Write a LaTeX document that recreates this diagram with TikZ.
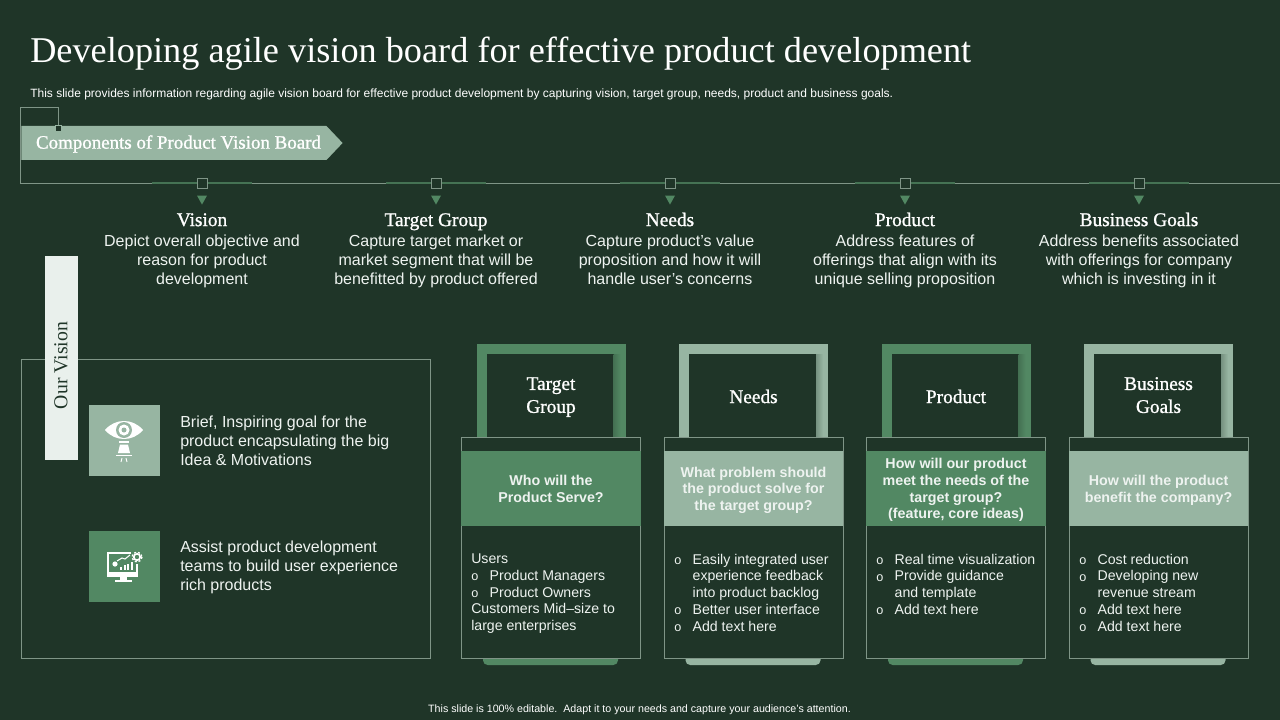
\documentclass[tikz,border=0pt]{standalone}
\usepackage{fontspec}
\setmainfont{Liberation Sans}
\newfontfamily\titlefont{Liberation Serif}
\newfontfamily\headfont[FakeBold=1]{Liberation Serif}
\usetikzlibrary{positioning,shapes.geometric,shapes.symbols}
\definecolor{slidebg}{HTML}{1F3528}
\definecolor{midgreen}{HTML}{528863}
\definecolor{palegreen}{HTML}{97B5A2}
\definecolor{thinline}{HTML}{7F9587}
\definecolor{barwhite}{HTML}{E9F0EC}
\definecolor{softwhite}{HTML}{EEF3F0}
\newcommand{\itm}{\makebox[13.8pt][l]{\raisebox{-.4pt}{\fontsize{9.5}{10}\selectfont o}}}
\newcommand{\ind}{\hspace*{13.8pt}}
\begin{document}
\begin{tikzpicture}[x=.75pt,y=-.75pt,
		base line/.style={draw=thinline,line width=.75pt},
		stub line/.style={draw=midgreen!75!slidebg,line width=1.2pt},
		tick node/.style={rectangle,draw=thinline,fill=slidebg,line width=.75pt,inner sep=0pt,minimum size=7.5pt},
		small tick/.style={rectangle,draw=palegreen,fill=slidebg,line width=.6pt,inner sep=0pt,minimum size=4.6pt},
		arrow mark/.style={isosceles triangle,isosceles triangle stretches,shape border rotate=-90,fill=midgreen,inner sep=0pt,minimum height=6.75pt,minimum width=7.5pt},
		head node/.style={text=white,font=\headfont\fontsize{14.5}{17.2}\selectfont,align=center,inner sep=0pt,execute at begin node=\strut,execute at end node=\strut},
		body node/.style={text=softwhite,font=\fontsize{12}{14.25}\selectfont,align=center,inner sep=0pt,execute at begin node=\strut,execute at end node=\strut},
		side node/.style={text=softwhite,font=\fontsize{12}{14.25}\selectfont,align=left,inner sep=0pt,anchor=west,execute at begin node=\strut,execute at end node=\strut},
		band node/.style={text=softwhite,font=\bfseries\fontsize{10.7}{12.5}\selectfont,align=center,inner sep=0pt,execute at begin node=\strut,execute at end node=\strut},
		list node/.style={text=softwhite,font=\fontsize{10.6}{12.6}\selectfont,align=left,inner sep=0pt,anchor=north west},
		icon box/.style={rectangle,inner sep=0pt,minimum size=53.25pt}]
		\useasboundingbox (0,0) rectangle (1280,720);
		\fill[slidebg] (0,0) rectangle (1280,720);

		% title
		\node[text=white,font=\titlefont\fontsize{27.2}{30}\selectfont,anchor=base west,inner sep=0pt] (title) at (30,63) {Developing agile vision board for effective product development};
		\node[text=white,font=\fontsize{9}{10}\selectfont,anchor=west,inner sep=0pt] (subtitle) at (30,94) {This slide provides information regarding agile vision board for effective product development by capturing vision, target group, needs, product and business goals.};

		% banner and spine
		\coordinate (corner) at (20,108);
		\coordinate (spine) at (20,183.5);
		\coordinate (spineend) at (1280,183.5);
		\node[small tick] (tick) at (58,128) {};
		\draw[base line] (tick.north) |- (corner) -- (spine) -- (spineend);
		\node[signal,signal to=east,signal from=nowhere,signal pointer angle=93,fill=palegreen,minimum height=25.5pt,minimum width=241pt,inner sep=0pt,anchor=west] (banner) at (21,143) {};
		\node[text=white,font=\headfont\fontsize{14.2}{16}\selectfont,inner sep=0pt] (bannertext) at (178.5,144) {Components of Product Vision Board};
		\node[small tick] at (tick) {};

		% stations along the spine
		\foreach \x/\id/\name/\txt in {
			202/vision/Vision/{Depict overall objective and\\reason for product\\development},
			436/group/Target Group/{Capture target market or\\market segment that will be\\benefitted by product offered},
			670/needs/Needs/{Capture product’s value\\proposition and how it will\\handle user’s concerns},
			905/product/Product/{Address features of\\offerings that align with its\\unique selling proposition},
			1139/goals/Business Goals/{Address benefits associated\\with offerings for company\\which is investing in it}}{
			\coordinate (\id l) at (\x-50,183);
			\coordinate (\id r) at (\x+50,183);
			\draw[stub line] (\id l) -- (\id r);
			\node[tick node] (\id) at (\x,183.5) {};
			\node[arrow mark] (\id arrow) at (\x,198.5) {};
			\node[head node] (\id head) at (\x,221.5) {\name};
			\node[body node] (\id text) at (\x,263) {\txt};
		}

		% left panel
		\node[rectangle,draw=thinline,line width=.75pt,minimum width=307pt,minimum height=224pt,inner sep=0pt,anchor=north west] (panel) at (21,359) {};
		\node[rectangle,fill=barwhite,minimum width=24.75pt,minimum height=153pt,inner sep=0pt,anchor=north west] (bar) at (45,256) {};
		\node[rotate=90,text=slidebg,font=\titlefont\fontsize{14.8}{16}\selectfont,inner sep=0pt] (bartext) at (61,365.5) {Our Vision};
		\node[icon box,fill=palegreen,anchor=north west] (eyebox) at (89,405) {};
		\node[icon box,fill=midgreen,anchor=north west] (screenbox) at (89,531) {};
		\node[side node] (eyetext) at (180,444) {Brief, Inspiring goal for the\\product encapsulating the big\\Idea \& Motivations};
		\node[side node] (screentext) at (180,569) {Assist product development\\teams to build user experience\\rich products};

		% eye icon
		\fill[white] (105,430) .. controls (115,418) and (133,418) .. (143,430) .. controls (133,442) and (115,442) .. (105,430) -- cycle;
		\fill[palegreen] (124,430) circle (8);
		\fill[white] (124,430) circle (5.5);
		\fill[palegreen] (124,430) circle (2.5);
		\fill[white] (119,441) rectangle (129,443);
		\fill[white] (120,444.5) -- (128,444.5) -- (130,453) -- (118,453) -- cycle;
		\fill[white] (116,454.5) rectangle (132,456);
		\draw[white,line width=.7pt] (122,458) -- (121,462) (126,458) -- (127,462);

		% screen icon
		\draw[white,line width=1.6pt] (131,553) -- (108,553) -- (108,575) -- (137,575) -- (137,564);
		\fill[white] (107,572) rectangle (138,577);
		\fill[white] (120,577) rectangle (127,580);
		\fill[white] (115,580) rectangle (132,582);
		\draw[white,line width=1.2pt] (137,557) circle (3.2);
		\draw[white,line width=1pt,dash pattern=on 1.5pt off 1.5pt] (137,557) circle (5);
		\fill[white] (115,564) circle (2.6);
		\foreach \bx/\bh in {120/3,123.5/5,127/6,130.5/8}{
			\fill[white] (\bx,570) rectangle ++(2.4,-\bh);
		}
		\draw[white,line width=.8pt] (117,561) -- (122,558) -- (125,559) -- (130,555);

		% columns
		\foreach \x/\id/\tone/\hd/\q in {
			461/one/midgreen/{Target\\Group}/{Who will the\\Product Serve?},
			663.5/two/palegreen/{Needs}/{What problem should\\the product solve for\\the target group?},
			866/three/midgreen/{Product}/{How will our product\\meet the needs of the\\target group?\\(feature, core ideas)},
			1068.5/four/palegreen/{Business\\Goals}/{How will the product\\benefit the company?}}{
			\fill[\tone,rounded corners=3.5pt] (\x+22,650) rectangle (\x+157,665);
			\node[rectangle,fill=\tone,minimum width=111.75pt,minimum height=70pt,inner sep=0pt,anchor=north west] (\id frame) at (\x+15.5,344) {};
			\node[rectangle,fill=slidebg,minimum width=95.25pt,minimum height=62.5pt,inner sep=0pt,anchor=north west] (\id inner) at (\x+25.5,354) {};
			\shade[left color=\tone!72!slidebg,right color=\tone] (\x+152.5,354) rectangle (\x+159.5,437);
			\node[head node] (\id title) at (\x+90,398.5) {\hd};
			\node[rectangle,draw=thinline,fill=slidebg,line width=.75pt,minimum width=134.5pt,minimum height=165.5pt,inner sep=0pt,anchor=north west] (\id card) at (\x,437) {};
			\node[rectangle,fill=\tone,minimum width=134.5pt,minimum height=56.25pt,inner sep=0pt,anchor=north west] (\id band) at (\x,451) {};
			\node[band node] (\id ask) at (\x+90,491) {\q};
		}

		% lists
		\node[list node] (onelist) at (471,553.5) {Users\\\itm Product Managers\\\itm Product Owners\\Customers Mid–size to\\large enterprises};
		\node[list node] (twolist) at (674,553.5) {\itm Easily integrated user\\\ind experience feedback\\\ind into product backlog\\\itm Better user interface\\\itm Add text here};
		\node[list node] (threelist) at (876,553.5) {\itm Real time visualization\\\itm Provide guidance\\\ind and template\\\itm Add text here};
		\node[list node] (fourlist) at (1079,553.5) {\itm Cost reduction\\\itm Developing new\\\ind revenue stream\\\itm Add text here\\\itm Add text here};

		% footer
		\node[text=white,font=\fontsize{8}{10}\selectfont,inner sep=0pt] (footer) at (639.5,709.5) {This slide is 100\% editable.\ \ Adapt it to your needs and capture your audience's attention.};
		\end{tikzpicture}
\end{document}
